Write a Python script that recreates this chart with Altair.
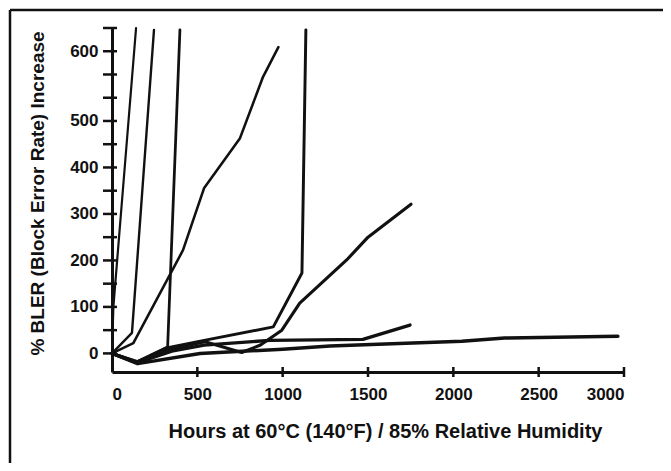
import altair as alt
import pandas as pd

FONT = "Liberation Sans"
INK = "#111111"

# ---- data: hours at 60°C / 85% RH  vs  % BLER increase (chart's plotted units) ----
s1_x = [0, 8, 141]
s1_y = [0, 100, 700]
s2_x = [0, 117, 246]
s2_y = [0, 44, 696]
s3_x = [0, 125, 416, 540, 750, 885, 975]
s3_y = [0, 22, 222, 356, 463, 595, 659]
s4_x = [0, 145, 326, 398]
s4_y = [0, -18, 14, 696]
s5_x = [0, 140, 320, 510, 945, 1113, 1136]
s5_y = [0, -20, 12, 26, 57, 173, 696]
s6_x = [0, 150, 330, 545, 760, 870, 995, 1100, 1375, 1500, 1752]
s6_y = [0, -18, 8, 25, 2, 18, 50, 108, 201, 250, 321]
s7_x = [0, 150, 350, 540, 925, 1470, 1746]
s7_y = [0, -20, 5, 18, 28, 30, 61]
s8_x = [0, 150, 516, 1000, 1277, 1600, 2050, 2300, 2964]
s8_y = [0, -22, 0, 9, 16, 20, 26, 33, 37]

series_names = ["s1", "s2", "s3", "s4", "s5", "s6", "s7", "s8"]
series_x = [s1_x, s2_x, s3_x, s4_x, s5_x, s6_x, s7_x, s8_x]
series_y = [s1_y, s2_y, s3_y, s4_y, s5_y, s6_y, s7_y, s8_y]
line_widths = [2.2, 3.5, 2.6, 1.6, 3.2, 2.4, 1.8, 2.0]

x_ticks = [500, 1000, 1500, 2000, 2500, 3000]
x_labels = [0, 500, 1000, 1500, 2000, 2500, 3000]
y_ticks = [0, 50, 100, 150, 200, 250, 300, 350, 400, 450, 500, 550, 600, 650, 700]
y_labels = [0, 100, 200, 300, 400, 500, 650]

x_title = "Hours at 60°C (140°F) / 85% Relative Humidity"
y_title = "% BLER (Block Error Rate) Increase"

rows = []
for name, xs, ys in zip(series_names, series_x, series_y):
    for i, (xv, yv) in enumerate(zip(xs, ys)):
        rows.append({"series": name, "i": i, "val_x": xv, "val_y": yv})
df = pd.DataFrame(rows)

W, H = 512, 344
xs_scale = alt.Scale(domain=[0, 3000], nice=False, zero=False)
ys_scale = alt.Scale(domain=[-40, 700], nice=False, zero=False)

x_axis = alt.Axis(
    values=x_labels, format="d", title=x_title, ticks=False, tickSize=0, grid=False,
    domain=True, domainWidth=3, domainColor=INK,
    labelFont=FONT, labelFontSize=17, labelFontWeight="bold", labelColor=INK,
    labelBaseline="alphabetic", labelPadding=27,
    titleFont=FONT, titleFontSize=20, titleFontWeight="bold", titleColor=INK,
    titleX=273, titleY=65, titleBaseline="alphabetic", titleAlign="center")
y_axis = alt.Axis(
    values=y_labels, labelExpr="datum.value == 650 ? '600' : datum.label",
    title=y_title, ticks=False, tickSize=0, grid=False,
    domain=True, domainWidth=3, domainColor=INK,
    labelFont=FONT, labelFontSize=17, labelFontWeight="bold", labelColor=INK,
    labelBaseline="middle", labelPadding=14,
    titleFont=FONT, titleFontSize=19, titleFontWeight="bold", titleColor=INK,
    titleX=-69, titleY=165, titleBaseline="alphabetic", titleAlign="center", titleAngle=-90)

X = alt.X("val_x:Q", scale=xs_scale, axis=x_axis)
Y = alt.Y("val_y:Q", scale=ys_scale, axis=y_axis)

lines = alt.Chart(df).mark_line(color=INK, strokeJoin="round", strokeCap="round").encode(
    x=X, y=Y,
    detail="series:N",
    order="i:Q",
    strokeWidth=alt.StrokeWidth("series:N", scale=alt.Scale(domain=series_names, range=line_widths), legend=None),
)

ytick_df = pd.DataFrame({"val_y": y_ticks})
yticks = alt.Chart(ytick_df).mark_rule(color=INK, strokeWidth=2.5).encode(
    y=Y, x=alt.value(-9), x2=alt.value(5),
)

xtick_df = pd.DataFrame({"val_x": x_ticks})
xticks = alt.Chart(xtick_df).mark_rule(color=INK, strokeWidth=2.5).encode(
    x=X, y=alt.value(H - 5), y2=alt.value(H + 5),
)

one = pd.DataFrame({"k": [0]})
border_top = alt.Chart(one).mark_rule(color=INK, strokeWidth=2.5).encode(
    x=alt.value(-102), x2=alt.value(560), y=alt.value(-18), y2=alt.value(-18),
)
border_left = alt.Chart(one).mark_rule(color=INK, strokeWidth=2.5).encode(
    x=alt.value(-102), x2=alt.value(-102), y=alt.value(-18), y2=alt.value(437),
)

chart = alt.layer(lines, yticks, xticks, border_top, border_left).properties(
    width=W, height=H,
    autosize=alt.AutoSizeParams(type="none"),
    padding={"left": 104, "top": 20, "right": 39, "bottom": 91},
    background="white",
).configure_view(stroke=None)

chart.save("out.html", embed_options={"renderer": "svg", "actions": False})
